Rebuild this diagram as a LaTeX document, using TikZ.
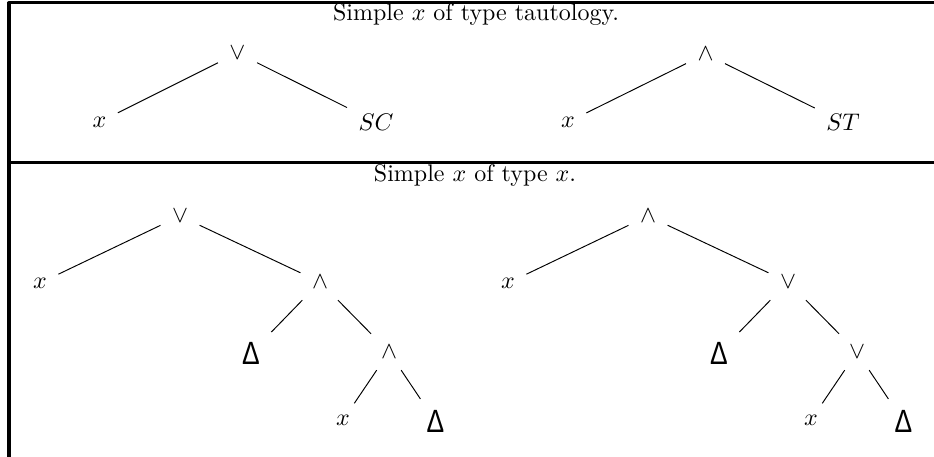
\documentclass[tikz,border=0pt]{standalone}
\usepackage{fontspec}
\newfontfamily\deltafont[FakeStretch=0.82]{Liberation Sans}
\newcommand{\leafdelta}{{\deltafont\fontsize{13.4}{15}\selectfont Δ}}

\begin{document}
\begin{tikzpicture}[
  x=0.4165pt,
  y=-0.4165pt,
  line join=round,
  frame/.style={draw=black,line width=1.25pt},
  branch/.style={draw=black,line width=0.4pt},
  tnode/.style={inner sep=4.6pt},
  caption/.style={inner sep=0pt,anchor=base}
]
  \useasboundingbox (0,0) rectangle (934,457);

  % Table rules: top, left and the row separator.
  \draw[frame] (934,3) -- (9,3) -- (9,457);
  \draw[frame] (9,162.5) -- (934,162.5);

  % Row captions.
  \node[caption] (capTaut) at (476,20.5) {Simple $x$ of type tautology.};
  \node[caption] (capX) at (475,182) {Simple $x$ of type $x$.};

  % Top row: tautology trees.
  \node[tnode] (tlOr) at (237.5,53) {$\vee$};
  \node[tnode] (tlX) at (99.5,122) {$x$};
  \node[tnode] (tlSC) at (376,122) {$SC$};
  \node[tnode] (trAnd) at (705.5,54) {$\wedge$};
  \node[tnode] (trX) at (568,122) {$x$};
  \node[tnode] (trST) at (843,122) {$ST$};

  % Bottom row, left tree.
  \node[tnode] (blOr) at (180,216) {$\vee$};
  \node[tnode] (blX) at (40,283) {$x$};
  \node[tnode] (blAnd) at (320,282) {$\wedge$};
  \node[tnode] (blDelta) at (251,353) {\leafdelta};
  \node[tnode] (blAndB) at (389,352) {$\wedge$};
  \node[tnode] (blXb) at (343,420) {$x$};
  \node[tnode] (blDeltaB) at (435.5,421.5) {\leafdelta};

  % Bottom row, right tree (dual connectives).
  \node[tnode] (brAnd) at (648,216) {$\wedge$};
  \node[tnode] (brX) at (508,283) {$x$};
  \node[tnode] (brOr) at (788,282) {$\vee$};
  \node[tnode] (brDelta) at (719,353) {\leafdelta};
  \node[tnode] (brOrB) at (857,352) {$\vee$};
  \node[tnode] (brXb) at (811,420) {$x$};
  \node[tnode] (brDeltaB) at (903.5,421.5) {\leafdelta};

  % Branches.
  \foreach \a/\b in {tlOr/tlX,tlOr/tlSC,trAnd/trX,trAnd/trST,
                     blOr/blX,blOr/blAnd,blAnd/blDelta,blAnd/blAndB,
                     blAndB/blXb,blAndB/blDeltaB,
                     brAnd/brX,brAnd/brOr,brOr/brDelta,brOr/brOrB,
                     brOrB/brXb,brOrB/brDeltaB} {
    \draw[branch] (\a) -- (\b);
  }
\end{tikzpicture}
\end{document}
